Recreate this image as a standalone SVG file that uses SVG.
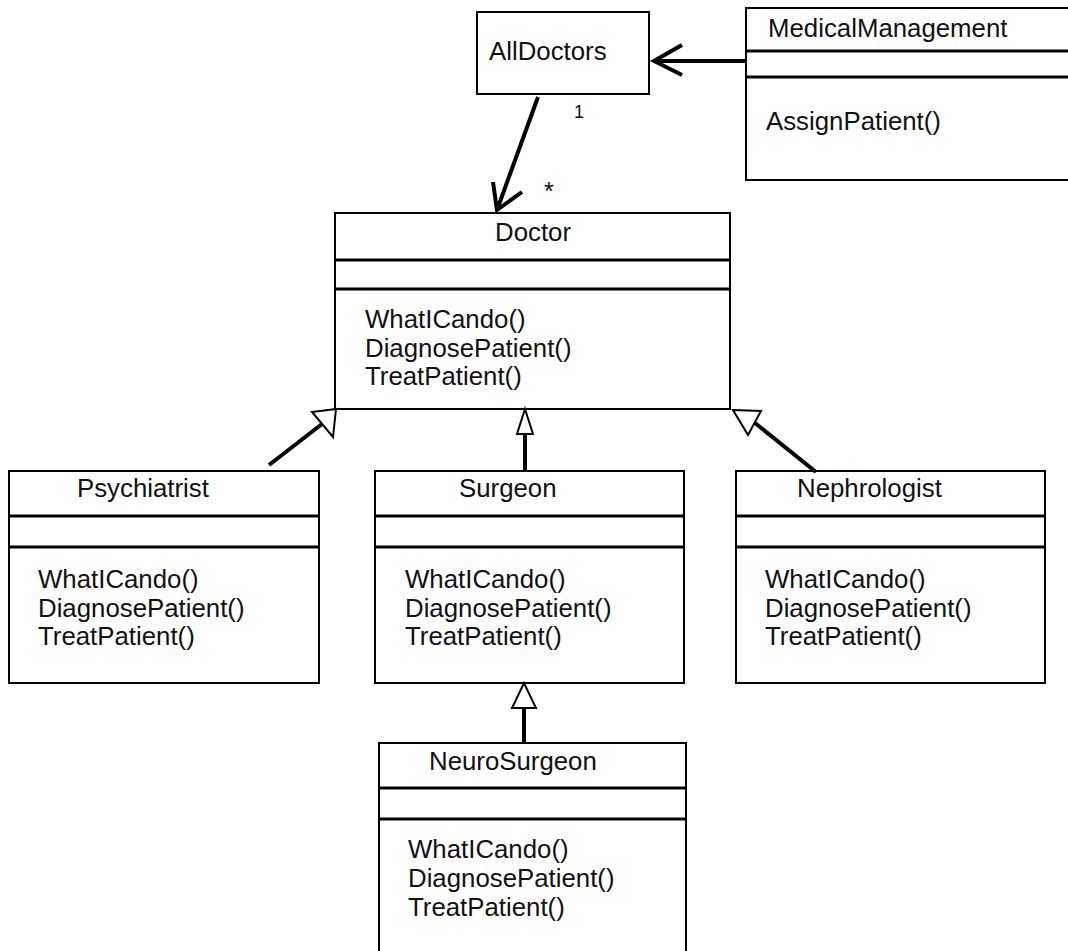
<svg xmlns="http://www.w3.org/2000/svg" width="1068" height="951" viewBox="0 0 1068 951">
<style>
.box{fill:#fff;stroke:#000;stroke-width:2}
.sep{stroke:#000;stroke-width:3}
.t{font-family:"Liberation Sans",Arial,sans-serif;font-size:25.8px;fill:#111}
.m{font-family:"Liberation Sans",Arial,sans-serif;font-size:18px;fill:#111}
.ln{stroke:#000;stroke-width:4;fill:none}
.open{stroke:#000;stroke-width:4;fill:none}
.tri{fill:#fff;stroke:#000;stroke-width:2;stroke-linejoin:miter}
</style>
<rect width="1068" height="951" fill="#fff"/>
<g id="AllDoctors">
<rect class="box" x="477" y="12" width="172" height="82"/>
<text class="t" x="489" y="60">AllDoctors</text>
</g>
<g id="MedicalManagement">
<rect class="box" x="746" y="8" width="340" height="172"/>
<line class="sep" x1="746" y1="51" x2="1068" y2="51"/>
<line class="sep" x1="746" y1="77" x2="1068" y2="77"/>
<text class="t" x="768" y="37">MedicalManagement</text>
<text class="t" x="766" y="130">AssignPatient()</text>
</g>
<g id="Doctor">
<rect class="box" x="335" y="213" width="395" height="196"/>
<line class="sep" x1="335" y1="260" x2="730" y2="260"/>
<line class="sep" x1="335" y1="289" x2="730" y2="289"/>
<text class="t" x="495" y="241">Doctor</text>
<text class="t" x="365" y="328">WhatICando()</text>
<text class="t" x="365" y="357">DiagnosePatient()</text>
<text class="t" x="365" y="385">TreatPatient()</text>
</g>
<g id="Psychiatrist">
<rect class="box" x="9" y="471" width="310" height="212"/>
<line class="sep" x1="9" y1="516" x2="319" y2="516"/>
<line class="sep" x1="9" y1="547" x2="319" y2="547"/>
<text class="t" x="77" y="497">Psychiatrist</text>
<text class="t" x="38" y="588">WhatICando()</text>
<text class="t" x="38" y="617">DiagnosePatient()</text>
<text class="t" x="38" y="645">TreatPatient()</text>
</g>
<g id="Surgeon">
<rect class="box" x="375" y="471" width="309" height="212"/>
<line class="sep" x1="375" y1="516" x2="684" y2="516"/>
<line class="sep" x1="375" y1="547" x2="684" y2="547"/>
<text class="t" x="459" y="497">Surgeon</text>
<text class="t" x="405" y="588">WhatICando()</text>
<text class="t" x="405" y="617">DiagnosePatient()</text>
<text class="t" x="405" y="645">TreatPatient()</text>
</g>
<g id="Nephrologist">
<rect class="box" x="736" y="471" width="309" height="212"/>
<line class="sep" x1="736" y1="516" x2="1045" y2="516"/>
<line class="sep" x1="736" y1="547" x2="1045" y2="547"/>
<text class="t" x="797" y="497">Nephrologist</text>
<text class="t" x="765" y="588">WhatICando()</text>
<text class="t" x="765" y="617">DiagnosePatient()</text>
<text class="t" x="765" y="645">TreatPatient()</text>
</g>
<g id="NeuroSurgeon">
<rect class="box" x="379" y="743" width="307" height="230"/>
<line class="sep" x1="379" y1="788" x2="686" y2="788"/>
<line class="sep" x1="379" y1="819" x2="686" y2="819"/>
<text class="t" x="429" y="770">NeuroSurgeon</text>
<text class="t" x="408" y="858">WhatICando()</text>
<text class="t" x="408" y="887">DiagnosePatient()</text>
<text class="t" x="408" y="916">TreatPatient()</text>
</g>
<g id="connectors">
<line class="open" x1="746" y1="61" x2="654" y2="61"/>
<polyline class="open" points="682,45 654,61 682,75"/>
<line class="open" x1="538" y1="97" x2="497" y2="210"/>
<polyline class="open" points="493,182 497,210 522,192"/>
<text class="m" x="574" y="118">1</text>
<text class="m" x="544" y="200" style="font-size:25px">*</text>
<line class="ln" x1="269" y1="465" x2="322" y2="424"/>
<polygon class="tri" points="336,409 312,412 333,437"/>
<line class="ln" x1="525" y1="434" x2="525" y2="471"/>
<polygon class="tri" points="525,409 517,434 533,434"/>
<line class="ln" x1="755" y1="423" x2="816" y2="472"/>
<polygon class="tri" points="733,410 761,411 748,435"/>
<line class="ln" x1="524" y1="708" x2="524" y2="743"/>
<polygon class="tri" points="524,683 512,708 536,708"/>
</g>
</svg>
